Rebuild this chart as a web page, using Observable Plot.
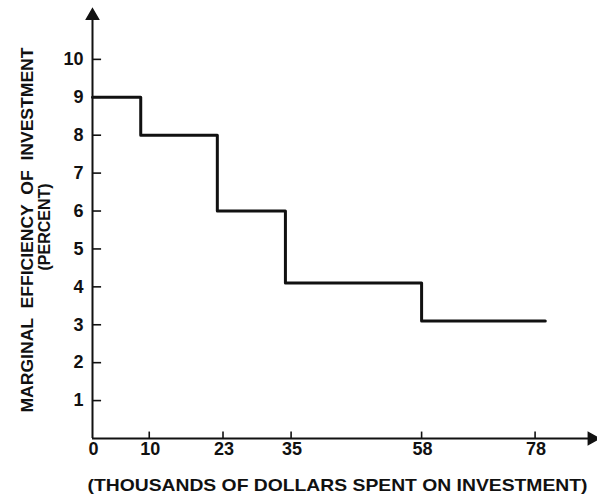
<!DOCTYPE html>
<html>
<head>
<meta charset="utf-8">
<script src="https://cdn.jsdelivr.net/npm/d3@7"></script>
<script src="https://cdn.jsdelivr.net/npm/@observablehq/plot@0.6"></script>
<style>
  html, body { margin: 0; padding: 0; background: #fff; }
  #chart svg { display: block; }
</style>
</head>
<body>
<div id="chart"></div>
<script>
// Step boundaries (thousands of dollars) and efficiency levels (percent)
const stepX = [0, 8.5, 22, 34, 58, 79.8];
const stepY = [9, 8, 6, 4.1, 3.1, 3.1];
const xTickValues = [0, 10, 23, 35, 58, 78];
const yTickValues = [1, 2, 3, 4, 5, 6, 7, 8, 9, 10];
const xTitle = "(THOUSANDS OF DOLLARS SPENT ON INVESTMENT)";
const yTitle1 = "MARGINAL  EFFICIENCY  OF  INVESTMENT";
const yTitle2 = "(PERCENT)";

const steps = stepX.map((x, i) => ({x, y: stepY[i]}));
const font = "'Liberation Sans', Arial, sans-serif";
const ink = "#111";

const chart = Plot.plot({
  width: 597,
  height: 498,
  marginLeft: 92,
  marginRight: 0,
  marginTop: 2,
  marginBottom: 60,
  style: {fontFamily: font, background: "#fff", color: ink},
  x: {domain: [0, 89], axis: null},
  y: {domain: [0, 11.5], axis: null},
  marks: [
    // axes
    Plot.ruleX([0], {y1: 0, y2: 11.1, stroke: ink, strokeWidth: 2}),
    Plot.ruleY([0], {x1: 0, x2: 88, stroke: ink, strokeWidth: 2}),
    Plot.dot([{x: 0, y: 11.15}], {x: "x", y: "y", symbol: "triangle", r: 4.5, fill: ink, stroke: ink}),
    Plot.dot([{x: 88, y: 0}], {x: "x", y: "y", symbol: "triangle", r: 4.5, fill: ink, stroke: ink, rotate: 90}),
    // tick marks
    Plot.ruleY(yTickValues, {x1: 0, x2: 1.6, stroke: ink, strokeWidth: 1.6}),
    Plot.ruleX(xTickValues.filter(d => d > 0), {y1: 0, y2: 0.17, stroke: ink, strokeWidth: 1.6}),
    // tick labels
    Plot.text(yTickValues, {x: 0, y: d => d, text: d => String(d), textAnchor: "end", dx: -9, fontSize: 18, fontWeight: "bold", fill: ink}),
    Plot.text(xTickValues, {x: d => d, y: 0, text: d => String(d), dy: 11, dx: 1, fontSize: 18, fontWeight: "bold", fill: ink}),
    // step line
    Plot.line(steps, {x: "x", y: "y", curve: "step-after", stroke: ink, strokeWidth: 3}),
    // titles
    Plot.text([yTitle1], {frameAnchor: "left", rotate: -90, textAnchor: "start", dx: -65, dy: 192, fontSize: 17, fontWeight: "bold", fill: ink, className: "ytitle1"}),
    Plot.text([yTitle2], {frameAnchor: "left", rotate: -90, textAnchor: "start", dx: -48, dy: 50, fontSize: 16, fontWeight: "bold", fill: ink, className: "ytitle2"}),
    Plot.text([xTitle], {frameAnchor: "bottom-left", textAnchor: "start", dy: 52, dx: -5, fontSize: 17, fontWeight: "bold", fill: ink, className: "xtitle"})
  ]
});

document.getElementById("chart").appendChild(chart);

// stretch title texts to the lengths seen in the reference
const fit = (cls, len) => {
  d3.select(chart).selectAll(`g.${cls} text`).attr("textLength", len).attr("lengthAdjust", "spacingAndGlyphs");
};
fit("ytitle1", 365);
fit("ytitle2", 87);
fit("xtitle", 500);
</script>
</body>
</html>
